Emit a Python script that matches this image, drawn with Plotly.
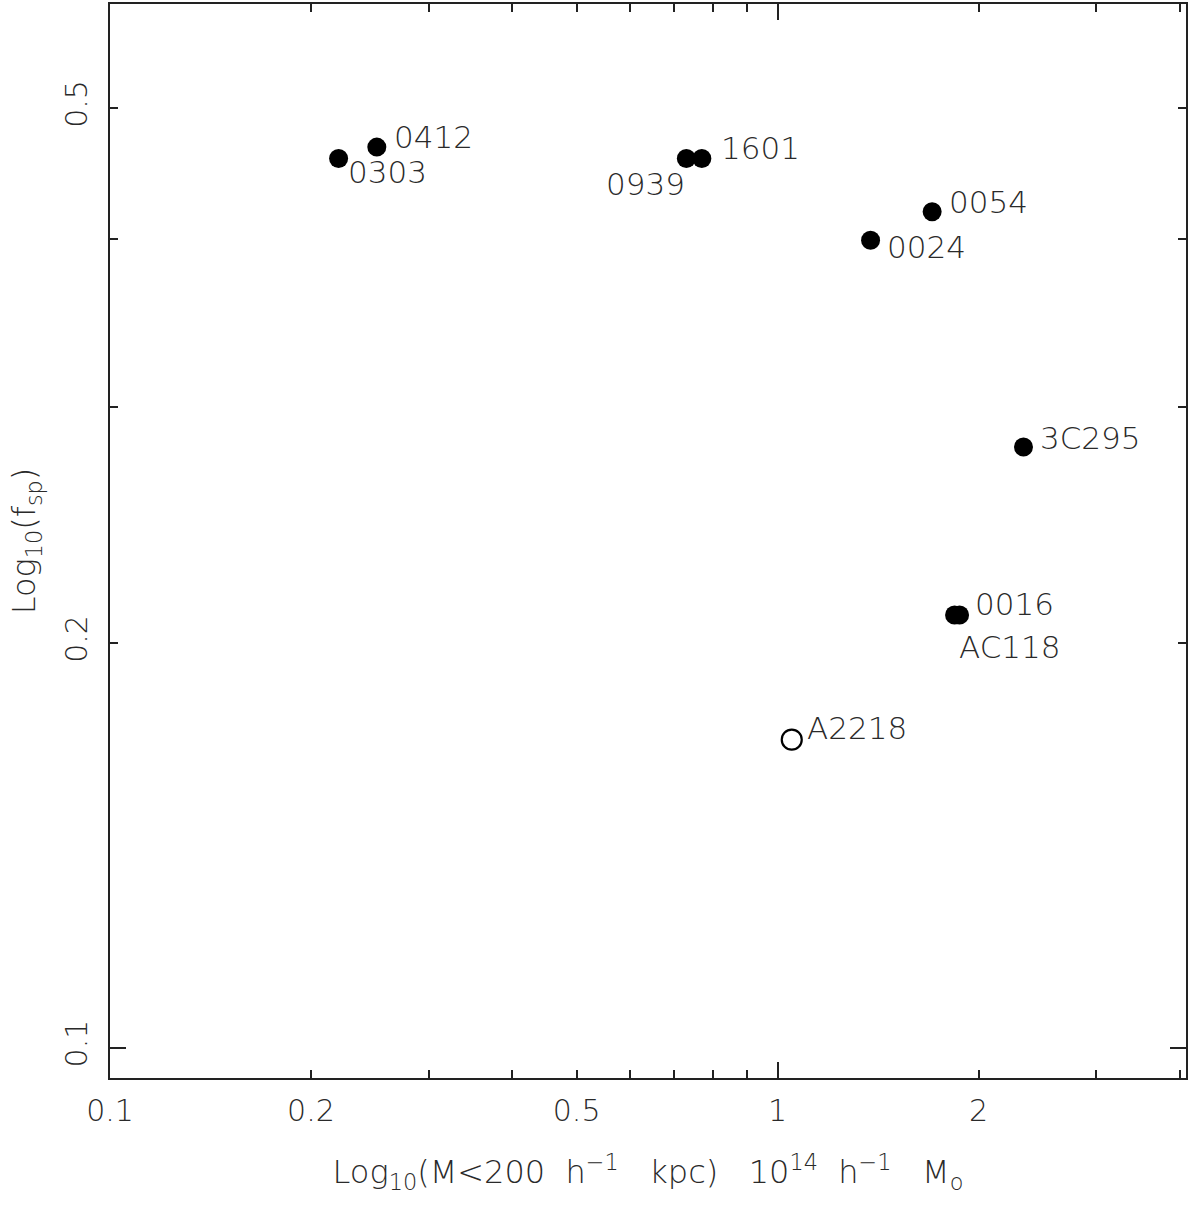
import plotly.graph_objects as go
import math

# ---- data ----
names = ["0303", "0412", "0939", "1601", "0054", "0024", "3C295", "0016", "AC118"]
mass = [0.220, 0.251, 0.730, 0.770, 1.704, 1.378, 2.335, 1.873, 1.841]
fsp = [0.459, 0.468, 0.459, 0.459, 0.419, 0.399, 0.280, 0.210, 0.210]

open_names = ["A2218"]
open_mass = [1.050]
open_fsp = [0.1696]

x_tickvals = [0.1, 0.2, 0.5, 1, 2]
x_ticktext = ["0.1", "0.2", "0.5", "1", "2"]
x_minor = [0.3, 0.4, 0.6, 0.7, 0.8, 0.9, 3, 4]
x_decade = [0.1, 1]

y_tickvals = [0.1, 0.2, 0.5]
y_ticktext = ["0.1", "0.2", "0.5"]
y_minor = [0.3, 0.4]
y_decade = [0.1]

x_range = [0.1, 4.09]
y_range = [0.0950, 0.598]

# ---- label placement style: (xanchor, xshift, yshift) ----
label_style = {
    "0303": ("left", 7, -14),
    "0412": ("left", 15, 10),
    "0939": ("right", 1, -26),
    "1601": ("left", 17, 10),
    "0054": ("left", 15, 10),
    "0024": ("left", 14, -7),
    "3C295": ("left", 15, 9),
    "0016": ("left", 13, 11),
    "AC118": ("left", 2, -32),
    "A2218": ("left", 13, 12),
}

FONT = "DejaVu Sans"
TXT = "#2a2a2a"
LINE = "#222222"

fig = go.Figure()
fig.add_trace(go.Scatter(
    x=mass, y=fsp, mode="markers",
    marker=dict(symbol="circle", size=19, color="black", line=dict(width=0)),
    hoverinfo="skip", showlegend=False,
))
fig.add_trace(go.Scatter(
    x=open_mass, y=open_fsp, mode="markers",
    marker=dict(symbol="circle-open", size=20, color="black", line=dict(width=2.2)),
    hoverinfo="skip", showlegend=False,
))
# invisible companion trace so the overlay axes (long decade ticks) render
fig.add_trace(go.Scatter(
    x=mass, y=fsp, mode="markers", xaxis="x2", yaxis="y2",
    marker=dict(size=1, opacity=0), hoverinfo="skip", showlegend=False,
))

for n, xv, yv in list(zip(names, mass, fsp)) + list(zip(open_names, open_mass, open_fsp)):
    anchor, dx, dy = label_style[n]
    fig.add_annotation(
        x=math.log10(xv), y=math.log10(yv), xref="x", yref="y",
        text=n, showarrow=False, xanchor=anchor, yanchor="middle",
        xshift=dx, yshift=dy,
        font=dict(family=FONT, size=31, color=TXT, weight=200),
    )

lx = [math.log10(v) for v in x_range]
ly = [math.log10(v) for v in y_range]

tick_font = dict(family=FONT, size=30, color=TXT, weight=200)
title_font = dict(family=FONT, size=32, color=TXT, weight=200)

fig.update_layout(
    width=1195, height=1205,
    margin=dict(l=110, r=9, t=4, b=127, autoexpand=False),
    paper_bgcolor="white", plot_bgcolor="white",
    font=tick_font,
    xaxis=dict(
        type="log", range=lx, showgrid=False, zeroline=False, automargin=False,
        showline=True, linecolor=LINE, linewidth=1.6, mirror="ticks",
        ticks="inside", ticklen=8, tickwidth=1.6, tickcolor=LINE,
        tickmode="array", tickvals=x_tickvals, ticktext=x_ticktext,
        tickfont=tick_font, ticklabelstandoff=5,
        minor=dict(tickmode="array", tickvals=x_minor, ticks="inside",
                   ticklen=8, tickwidth=1.6, tickcolor=LINE, showgrid=False),
        title=dict(text="Log<sub>10</sub>(M&lt;200&nbsp; h<sup>−1</sup>&nbsp;&nbsp; kpc)&nbsp;&nbsp; 10<sup>14</sup>&nbsp; h<sup>−1</sup>&nbsp;&nbsp; M<sub>o</sub>",
                   font=title_font, standoff=34),
    ),
    yaxis=dict(
        type="log", range=ly, showgrid=False, zeroline=False, automargin=False,
        showline=True, linecolor=LINE, linewidth=1.6, mirror="ticks",
        ticks="inside", ticklen=8, tickwidth=1.6, tickcolor=LINE,
        tickmode="array", tickvals=y_tickvals, ticktext=y_ticktext,
        tickangle=-90, tickfont=tick_font, ticklabelstandoff=9,
        minor=dict(tickmode="array", tickvals=y_minor, ticks="inside",
                   ticklen=8, tickwidth=1.6, tickcolor=LINE, showgrid=False),
        title=dict(text="Log<sub>10</sub>(f<sub>sp</sub>)", font=title_font, standoff=14),
    ),
    xaxis2=dict(
        type="log", range=lx, overlaying="x", anchor="y", side="bottom",
        showgrid=False, zeroline=False, showline=False, mirror="ticks", automargin=False,
        ticks="inside", ticklen=16, tickwidth=1.6, tickcolor=LINE,
        tickmode="array", tickvals=x_decade, showticklabels=False,
    ),
    yaxis2=dict(
        type="log", range=ly, overlaying="y", anchor="x", side="left",
        showgrid=False, zeroline=False, showline=False, mirror="ticks", automargin=False,
        ticks="inside", ticklen=16, tickwidth=1.6, tickcolor=LINE,
        tickmode="array", tickvals=y_decade, showticklabels=False,
    ),
)

fig.write_html(
    "out.html",
    config={"displayModeBar": False},
    post_script="document.body.style.margin='0';document.body.style.padding='0';",
)
